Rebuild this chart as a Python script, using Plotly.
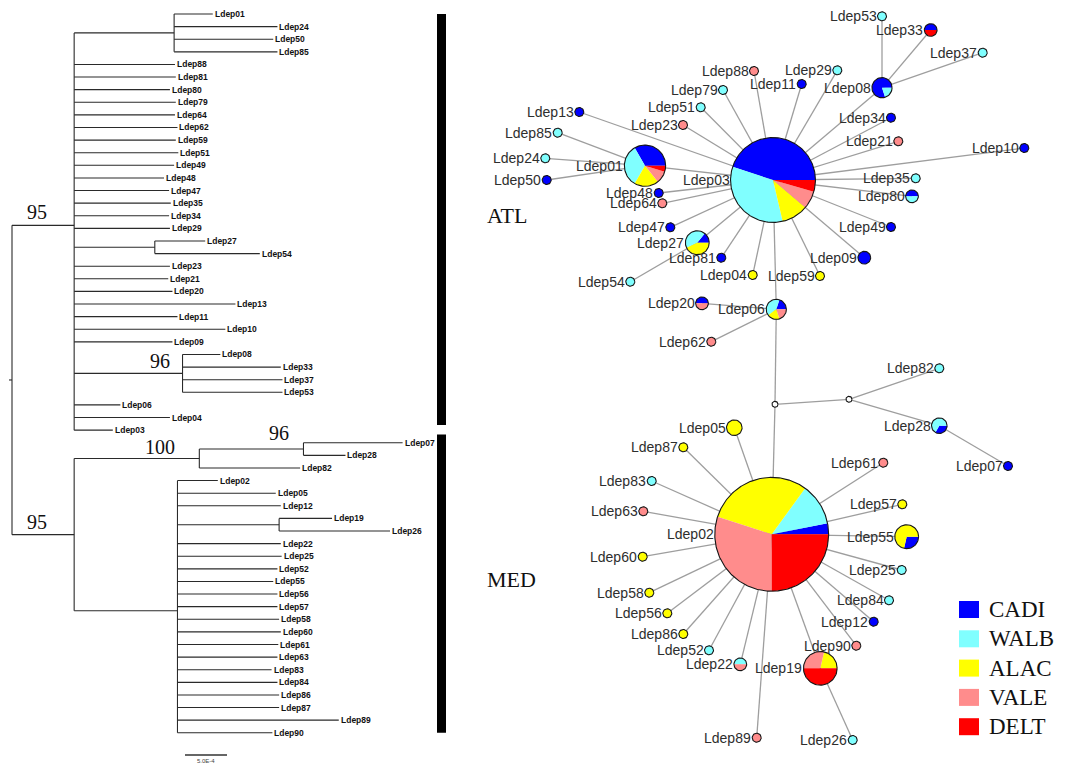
import math
from collections import defaultdict
import plotly.graph_objects as go

# ======================= DATA =======================
# --- Phylogenetic tree (branch lengths in units of 1E-4 substitutions/site) ---
tree_tips = ["Ldep01", "Ldep24", "Ldep50", "Ldep85", "Ldep88", "Ldep81", "Ldep80", "Ldep79",
             "Ldep64", "Ldep62", "Ldep59", "Ldep51", "Ldep49", "Ldep48", "Ldep47", "Ldep35",
             "Ldep34", "Ldep29", "Ldep27", "Ldep54", "Ldep23", "Ldep21", "Ldep20", "Ldep13",
             "Ldep11", "Ldep10", "Ldep09", "Ldep08", "Ldep33", "Ldep37", "Ldep53", "Ldep06",
             "Ldep04", "Ldep03",
             "Ldep07", "Ldep28", "Ldep82", "Ldep02", "Ldep05", "Ldep12", "Ldep19", "Ldep26",
             "Ldep22", "Ldep25", "Ldep52", "Ldep55", "Ldep56", "Ldep57", "Ldep58", "Ldep60",
             "Ldep61", "Ldep63", "Ldep83", "Ldep84", "Ldep86", "Ldep87", "Ldep89", "Ldep90"]
tree_tip_parent = ["c01", "c01", "c01", "c01"] + ["ATL"] * 14 + ["c27", "c27"] + ["ATL"] * 7 + \
                  ["c08", "c08", "c08", "c08"] + ["ATL"] * 3 + \
                  ["c07", "c07", "c100", "cMED", "cMED", "cMED", "c19", "c19"] + ["cMED"] * 16
tree_tip_length = [4.6, 12.3, 11.8, 12.3, 12.0, 12.1, 11.4, 12.1,
                   12.0, 12.3, 12.1, 12.4, 11.9, 10.7, 11.3, 11.5,
                   11.3, 11.4, 6.0, 12.5, 11.4, 11.2, 11.7, 19.2,
                   12.3, 18.0, 11.7, 4.5, 11.7, 11.9, 11.9, 5.5,
                   11.4, 4.6,
                   11.8, 5.0, 12.0, 4.8, 11.7, 12.3, 6.3, 13.2,
                   12.3, 12.4, 11.9, 11.4, 11.9, 11.9, 12.1, 12.3,
                   12.0, 11.9, 11.2, 11.9, 12.1, 12.1, 19.2, 11.3]
tree_nodes = ["root", "ATL", "MED", "c01", "c27", "c08", "c100", "c07", "cMED", "c19"]
tree_node_parent = [None, "root", "root", "ATL", "ATL", "ATL", "MED", "c100", "MED", "cMED"]
tree_node_length = [0.0, 7.4, 7.4, 11.9, 9.6, 12.9, 14.9, 12.4, 12.3, 12.1]
support_nodes = ["ATL", "MED", "c100", "c07", "c08"]
support_values = ["95", "95", "100", "96", "96"]
clade_names = ["ATL", "MED"]
clade_first_tip = ["Ldep01", "Ldep07"]
clade_last_tip = ["Ldep03", "Ldep90"]
scale_bar_length = 5.0          # 5.0E-4
scale_bar_label = "5.0E-4"

# --- Haplotype network ---
populations = ["CADI", "WALB", "ALAC", "VALE", "DELT"]
hap_composition = {
    "Ldep03": [("CADI", 40), ("WALB", 30), ("ALAC", 9), ("VALE", 6), ("DELT", 4)],
    "Ldep01": [("CADI", 7), ("WALB", 7), ("ALAC", 4), ("VALE", 2), ("DELT", 1)],
    "Ldep13": [("CADI", 1)], "Ldep85": [("WALB", 1)], "Ldep24": [("WALB", 1)],
    "Ldep50": [("CADI", 1)], "Ldep48": [("CADI", 1)], "Ldep64": [("VALE", 1)],
    "Ldep47": [("CADI", 1)],
    "Ldep27": [("CADI", 1), ("WALB", 3), ("ALAC", 3)],
    "Ldep81": [("CADI", 1)], "Ldep54": [("WALB", 1)], "Ldep04": [("ALAC", 1)],
    "Ldep59": [("ALAC", 1)], "Ldep88": [("VALE", 1)], "Ldep79": [("WALB", 1)],
    "Ldep51": [("WALB", 1)], "Ldep23": [("VALE", 1)], "Ldep11": [("CADI", 1)],
    "Ldep53": [("WALB", 1)],
    "Ldep33": [("CADI", 1), ("DELT", 1)],
    "Ldep37": [("WALB", 1)], "Ldep29": [("WALB", 1)],
    "Ldep08": [("CADI", 4), ("WALB", 1)],
    "Ldep34": [("CADI", 1)], "Ldep21": [("VALE", 1)], "Ldep10": [("CADI", 1)],
    "Ldep35": [("WALB", 1)],
    "Ldep80": [("CADI", 1), ("WALB", 1)],
    "Ldep49": [("CADI", 1)], "Ldep09": [("CADI", 2)],
    "Ldep20": [("CADI", 1), ("VALE", 1)],
    "Ldep06": [("CADI", 1), ("WALB", 2), ("ALAC", 1), ("VALE", 1)],
    "Ldep62": [("VALE", 1)],
    "Ldep82": [("WALB", 1)],
    "Ldep28": [("WALB", 2), ("CADI", 1)],
    "Ldep07": [("CADI", 1)],
    "Ldep05": [("ALAC", 3)], "Ldep87": [("ALAC", 1)], "Ldep83": [("WALB", 1)],
    "Ldep61": [("VALE", 1)],
    "Ldep02": [("CADI", 5), ("WALB", 19), ("ALAC", 48), ("VALE", 48), ("DELT", 40)],
    "Ldep63": [("VALE", 1)], "Ldep60": [("ALAC", 1)], "Ldep58": [("ALAC", 1)],
    "Ldep56": [("ALAC", 1)], "Ldep86": [("ALAC", 1)], "Ldep52": [("WALB", 1)],
    "Ldep22": [("WALB", 1), ("VALE", 1)],
    "Ldep89": [("VALE", 1)],
    "Ldep19": [("ALAC", 3), ("VALE", 4), ("DELT", 7)],
    "Ldep26": [("WALB", 1)], "Ldep90": [("VALE", 1)], "Ldep12": [("CADI", 1)],
    "Ldep84": [("WALB", 1)], "Ldep25": [("WALB", 1)],
    "Ldep55": [("ALAC", 5), ("CADI", 2)],
    "Ldep57": [("ALAC", 1)],
}
median_vectors = ["mv1", "mv2"]
net_edges = [("Ldep03", h) for h in ["Ldep13", "Ldep01", "Ldep23", "Ldep51", "Ldep79", "Ldep88",
                                      "Ldep11", "Ldep29", "Ldep08", "Ldep34", "Ldep21", "Ldep10",
                                      "Ldep35", "Ldep80", "Ldep49", "Ldep09", "Ldep59", "Ldep06",
                                      "Ldep04", "Ldep81", "Ldep27", "Ldep47", "Ldep64", "Ldep48"]] + \
            [("Ldep01", "Ldep85"), ("Ldep01", "Ldep24"), ("Ldep01", "Ldep50"),
             ("Ldep27", "Ldep54"),
             ("Ldep08", "Ldep53"), ("Ldep08", "Ldep33"), ("Ldep08", "Ldep37"),
             ("Ldep06", "Ldep20"), ("Ldep06", "Ldep62"), ("Ldep06", "mv1"),
             ("mv1", "Ldep02"), ("mv1", "mv2"), ("mv2", "Ldep82"), ("mv2", "Ldep28"),
             ("Ldep28", "Ldep07"), ("Ldep19", "Ldep26")] + \
            [("Ldep02", h) for h in ["Ldep05", "Ldep87", "Ldep83", "Ldep63", "Ldep60", "Ldep58",
                                      "Ldep56", "Ldep86", "Ldep52", "Ldep22", "Ldep89", "Ldep19",
                                      "Ldep90", "Ldep12", "Ldep84", "Ldep25", "Ldep55", "Ldep57",
                                      "Ldep61"]]

# ======================= LAYOUT / STYLE =======================
W, H = 1071, 769          # browser window
BODY_MARGIN = 8           # default page margin around the plot div
POP_COLORS = {"CADI": "#0000FF", "WALB": "#80FFFF", "ALAC": "#FFFF00",
              "VALE": "#FF8C8C", "DELT": "#FF0000"}
# network node layout (drawing positions, page px)
net_pos = {
    "Ldep03": (773, 180), "Ldep01": (645, 165.7), "Ldep13": (579.3, 112), "Ldep85": (557.7, 132.7),
    "Ldep24": (545.3, 158.3), "Ldep50": (546.7, 180), "Ldep48": (658.7, 193), "Ldep64": (662.3, 203.3),
    "Ldep47": (670.3, 227.3), "Ldep27": (697.3, 242.7), "Ldep81": (721.3, 257.7), "Ldep54": (630.3, 281.7),
    "Ldep04": (752.7, 275), "Ldep59": (820, 276), "Ldep88": (754, 71), "Ldep79": (723, 90),
    "Ldep51": (700.7, 107.3), "Ldep23": (683, 125), "Ldep11": (801.7, 84), "Ldep53": (882, 16.3),
    "Ldep33": (930.7, 30), "Ldep37": (982.7, 52.7), "Ldep29": (837.3, 70.3), "Ldep08": (882, 87.7),
    "Ldep34": (891, 117.7), "Ldep21": (898.3, 141.3), "Ldep10": (1024.3, 148), "Ldep35": (915.7, 178.3),
    "Ldep80": (912, 196.3), "Ldep49": (891, 227), "Ldep09": (864.3, 257.7), "Ldep20": (702, 303.3),
    "Ldep06": (776.3, 309.3), "Ldep62": (711.3, 341.7), "mv1": (775, 404.3), "mv2": (849, 399.3),
    "Ldep82": (939.3, 368.3), "Ldep28": (939.3, 425.7), "Ldep07": (1008, 466), "Ldep05": (734.3, 427.7),
    "Ldep87": (683.3, 447.3), "Ldep83": (651.7, 481), "Ldep61": (883.3, 462.7), "Ldep02": (771.7, 534.3),
    "Ldep63": (643.3, 511.3), "Ldep60": (642.7, 556.7), "Ldep58": (649.3, 592.7), "Ldep56": (667.3, 613.3),
    "Ldep86": (683.3, 634), "Ldep52": (709, 650.3), "Ldep22": (740.3, 664.3), "Ldep89": (756.7, 737.7),
    "Ldep19": (820.3, 668.3), "Ldep26": (852.7, 740), "Ldep90": (856.3, 645.7), "Ldep12": (873.7, 621.7),
    "Ldep84": (889, 600.3), "Ldep25": (901.7, 570), "Ldep55": (906.7, 536.7), "Ldep57": (902.3, 504.3),
}
R_UNIT = 4.5        # radius of a node with frequency 1
R_MV = 3.0
TREE_PX_PER_UNIT = 8.4
TREE_ROOT_PX = 12
TIP_TOP_PX = 14
TIP_STEP_PX = 12.61
support_offsets_px = [(-37, -13), (-37, -13), (-39, -12), (-24, -16), (-23, -12)]

# ======================= TREE GEOMETRY =======================
parent, length = {}, {}
for n, p, l in zip(tree_tips, tree_tip_parent, tree_tip_length):
    parent[n], length[n] = p, l
for n, p, l in zip(tree_nodes, tree_node_parent, tree_node_length):
    parent[n], length[n] = p, l
children = defaultdict(list)
for n in list(tree_nodes) + list(tree_tips):
    if parent[n] is not None:
        children[parent[n]].append(n)
tip_index = {n: i for i, n in enumerate(tree_tips)}


def node_x(n):
    return 0.0 if parent[n] is None else node_x(parent[n]) + length[n]


def node_y(n):
    if n in tip_index:
        return float(tip_index[n])
    ys = [node_y(c) for c in children[n]]
    return sum(ys) / len(ys)


tx, ty = [], []
for n in list(tree_nodes) + list(tree_tips):
    p = parent[n]
    if p is not None:
        tx += [node_x(p), node_x(n), None]
        ty += [node_y(n), node_y(n), None]
    if n in children:
        cys = [node_y(c) for c in children[n]]
        tx += [node_x(n), node_x(n), None]
        ty += [min(cys), max(cys), None]
# root stub
tx += [node_x("root") - 0.36, node_x("root"), None]
ty += [node_y("root"), node_y("root"), None]

fig = go.Figure()
fig.add_trace(go.Scatter(x=tx, y=ty, mode="lines", line=dict(color="#2a2a2a", width=1.1),
                         hoverinfo="skip", showlegend=False, xaxis="x", yaxis="y"))

annotations = []
for n in tree_tips:
    annotations.append(dict(x=node_x(n), y=node_y(n), xref="x", yref="y", text="<b>%s</b>" % n,
                            showarrow=False, xanchor="left", yanchor="middle",
                            font=dict(family="Arial, Liberation Sans", size=8.5, color="#111")))
for n, v, (dx, dy) in zip(support_nodes, support_values, support_offsets_px):
    annotations.append(dict(x=node_x(n), y=node_y(n), xref="x", yref="y", text=v,
                            showarrow=False, xanchor="center", yanchor="middle",
                            xshift=dx, yshift=-dy,
                            font=dict(family="Times New Roman, Liberation Serif", size=20, color="#111")))

# clade bars and labels
shapes = []
bar_x0 = (437 - TREE_ROOT_PX) / TREE_PX_PER_UNIT
bar_x1 = (446 - TREE_ROOT_PX) / TREE_PX_PER_UNIT
bar_pad_top = [0.0, 0.65]
bar_pad_bot = [0.4, 0.0]
for name, f, l, pt, pb in zip(clade_names, clade_first_tip, clade_last_tip, bar_pad_top, bar_pad_bot):
    y0 = tip_index[f] - pt
    y1 = tip_index[l] - pb
    shapes.append(dict(type="rect", xref="x", yref="y", x0=bar_x0, x1=bar_x1, y0=y0, y1=y1,
                       fillcolor="black", line=dict(width=0)))
    annotations.append(dict(x=bar_x1, y=(y0 + y1) / 2, xref="x", yref="y", text=name,
                            showarrow=False, xanchor="left", yanchor="middle", xshift=39, yshift=4,
                            font=dict(family="Times New Roman, Liberation Serif", size=22, color="#111")))

# scale bar
sb_x0 = (185 - TREE_ROOT_PX) / TREE_PX_PER_UNIT
sb_y = (755 - TIP_TOP_PX) / TIP_STEP_PX
fig.add_trace(go.Scatter(x=[sb_x0, sb_x0 + scale_bar_length], y=[sb_y, sb_y], mode="lines",
                         line=dict(color="#333", width=1.5), hoverinfo="skip", showlegend=False,
                         xaxis="x", yaxis="y"))
annotations.append(dict(x=sb_x0 + scale_bar_length / 2, y=sb_y, xref="x", yref="y", text=scale_bar_label,
                        showarrow=False, xanchor="center", yanchor="top", yshift=-1,
                        font=dict(family="Arial, Liberation Sans", size=6, color="#444")))

# ======================= NETWORK GEOMETRY =======================


def radius(n):
    if n in median_vectors:
        return R_MV
    return R_UNIT * math.sqrt(sum(c for _, c in hap_composition[n]))


# edges
ex, ey = [], []
for a, b in net_edges:
    ex += [net_pos[a][0], net_pos[b][0], None]
    ey += [net_pos[a][1], net_pos[b][1], None]
fig.add_trace(go.Scatter(x=ex, y=ey, mode="lines", line=dict(color="#9e9e9e", width=1.3),
                         hoverinfo="skip", showlegend=False, xaxis="x2", yaxis="y2"))


def arc(cx, cy, r, a0, a1):
    npts = max(6, int(abs(a1 - a0) / (2 * math.pi) * max(40, r * 5)))
    return [(cx + r * math.cos(a0 + (a1 - a0) * k / npts), cy - r * math.sin(a0 + (a1 - a0) * k / npts))
            for k in range(npts + 1)]


poly = {p: ([], []) for p in populations}
mvx, mvy = [], []
ox, oy = [], []
for n, (cx, cy) in net_pos.items():
    r = radius(n)
    circ = arc(cx, cy, r, 0, 2 * math.pi)
    ox += [p[0] for p in circ] + [None]
    oy += [p[1] for p in circ] + [None]
    if n in median_vectors:
        mvx += [p[0] for p in circ] + [None]
        mvy += [p[1] for p in circ] + [None]
        continue
    comp = hap_composition[n]
    tot = sum(c for _, c in comp)
    a = 0.0
    for pop, c in comp:
        a1 = a + 2 * math.pi * c / tot
        if len(comp) == 1:
            pts = circ
        else:
            pts = [(cx, cy)] + arc(cx, cy, r, a, a1) + [(cx, cy)]
        poly[pop][0].extend([p[0] for p in pts] + [None])
        poly[pop][1].extend([p[1] for p in pts] + [None])
        a = a1

fig.add_trace(go.Scatter(x=mvx, y=mvy, mode="lines", fill="toself", fillcolor="white",
                         line=dict(width=0), hoverinfo="skip", showlegend=False, xaxis="x2", yaxis="y2"))
for pop in populations:
    fig.add_trace(go.Scatter(x=poly[pop][0], y=poly[pop][1], mode="lines", fill="toself",
                             fillcolor=POP_COLORS[pop], line=dict(width=0, color=POP_COLORS[pop]),
                             hoverinfo="skip", showlegend=False, xaxis="x2", yaxis="y2"))
fig.add_trace(go.Scatter(x=ox, y=oy, mode="lines", line=dict(color="#151515", width=1.1),
                         hoverinfo="skip", showlegend=False, xaxis="x2", yaxis="y2"))

for n, (cx, cy) in net_pos.items():
    if n in median_vectors:
        continue
    annotations.append(dict(x=cx - radius(n), y=cy, xref="x2", yref="y2", text=n, showarrow=False,
                            xanchor="right", yanchor="middle", xshift=1,
                            font=dict(family="Arial, Liberation Sans", size=14, color="#2e2e2e")))

# legend
LEG_X0, LEG_Y0, LEG_DY, LEG_W, LEG_H = 959, 601, 29.3, 20, 17
for i, pop in enumerate(populations):
    y0 = LEG_Y0 + i * LEG_DY
    shapes.append(dict(type="rect", xref="x2", yref="y2", x0=LEG_X0, x1=LEG_X0 + LEG_W,
                       y0=y0, y1=y0 + LEG_H, fillcolor=POP_COLORS[pop], line=dict(width=0)))
    annotations.append(dict(x=LEG_X0 + LEG_W + 8, y=y0 + LEG_H / 2, xref="x2", yref="y2", text=pop,
                            showarrow=False, xanchor="left", yanchor="middle",
                            font=dict(family="Times New Roman, Liberation Serif", size=23, color="#111")))

# ======================= AXES =======================
# the plot div starts BODY_MARGIN px inside the page, so it is sized to end at the window edge
M = BODY_MARGIN
fig.update_layout(
    width=W - M, height=H - M, margin=dict(l=0, r=0, t=0, b=0),
    paper_bgcolor="white", plot_bgcolor="white", showlegend=False,
    xaxis=dict(domain=[0, 1], range=[(M - TREE_ROOT_PX) / TREE_PX_PER_UNIT, (W - TREE_ROOT_PX) / TREE_PX_PER_UNIT],
               visible=False, fixedrange=True),
    yaxis=dict(domain=[0, 1], range=[(H - TIP_TOP_PX) / TIP_STEP_PX, (M - TIP_TOP_PX) / TIP_STEP_PX],
               visible=False, fixedrange=True),
    xaxis2=dict(domain=[0, 1], range=[M, W], overlaying="x", anchor="y2", visible=False, fixedrange=True),
    yaxis2=dict(domain=[0, 1], range=[H, M], overlaying="y", anchor="x2", visible=False, fixedrange=True),
    shapes=shapes, annotations=annotations,
)

fig.write_html("out.html")
